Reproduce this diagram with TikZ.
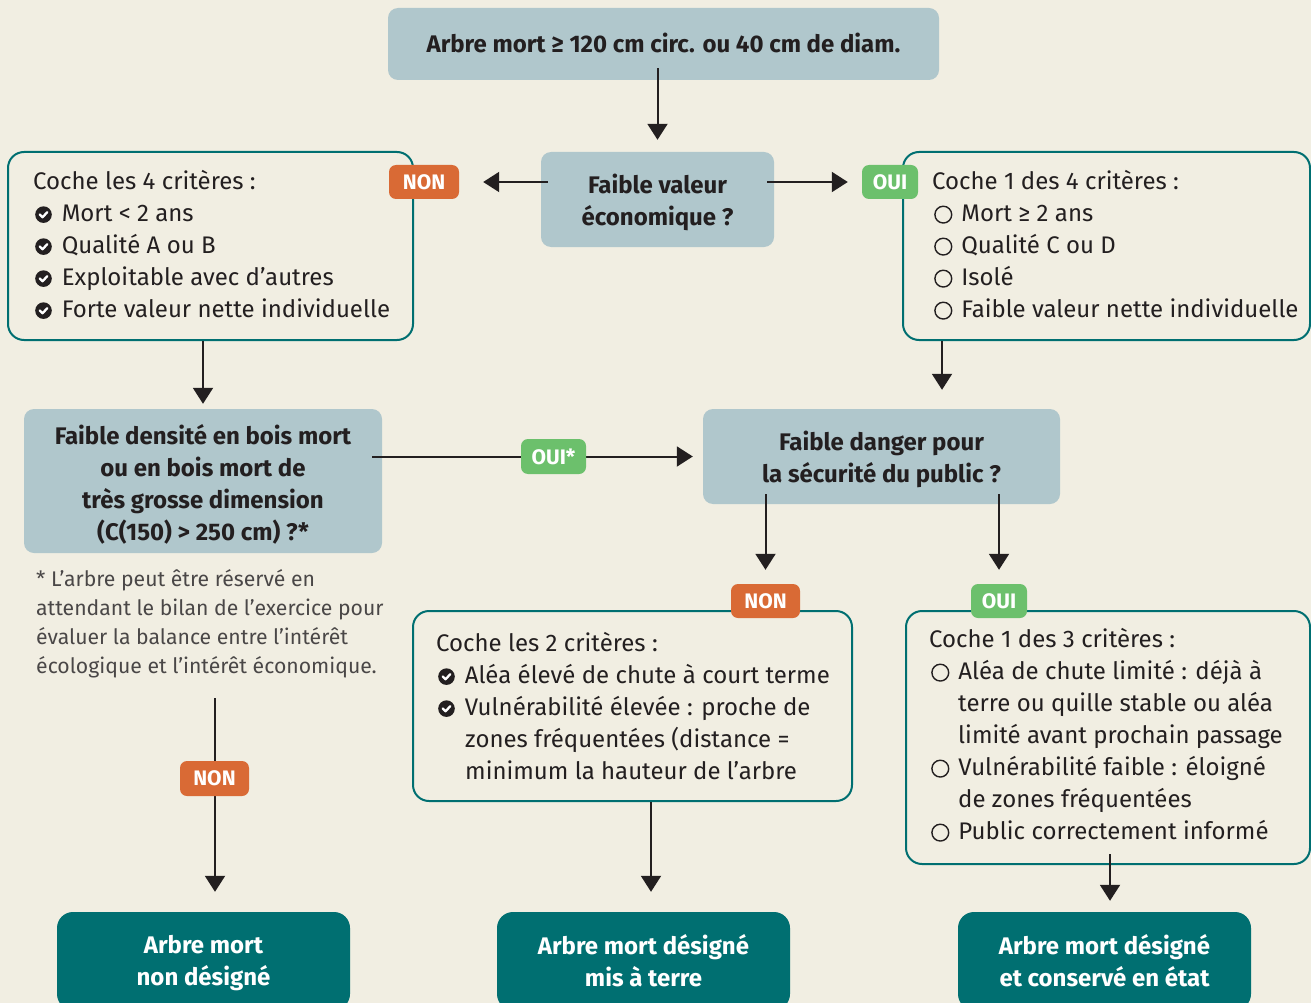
\documentclass[tikz,border=0pt]{standalone}
\usepackage{fontspec}
\setmainfont{Fira Sans}
\usetikzlibrary{arrows.meta,calc}
\definecolor{bg}{HTML}{F1EEE2}
\definecolor{qcol}{HTML}{B0C7CC}
\definecolor{tealc}{HTML}{006F71}
\definecolor{nonc}{HTML}{D96A35}
\definecolor{ouic}{HTML}{6CC06C}
\definecolor{ink}{HTML}{231F20}
\definecolor{notec}{HTML}{4A4747}
\begin{document}
\newsavebox\chkbox
\sbox\chkbox{\begin{pgfpicture}\pgfsetbaseline{0pt}%
  \pgfsetfillcolor{ink}\pgfpathcircle{\pgfpoint{0pt}{6.8pt}}{8.3pt}\pgfusepath{fill}%
  \pgfsetstrokecolor{white}\pgfsetlinewidth{2.3pt}\pgfsetroundcap\pgfsetroundjoin
  \pgfpathmoveto{\pgfpoint{-3.7pt}{6.9pt}}\pgfpathlineto{\pgfpoint{-1pt}{4.2pt}}%
  \pgfpathlineto{\pgfpoint{3.9pt}{9.3pt}}\pgfusepath{stroke}%
\end{pgfpicture}}
\newsavebox\cirbox
\sbox\cirbox{\begin{pgfpicture}\pgfsetbaseline{0pt}%
  \pgfsetstrokecolor{ink}\pgfsetlinewidth{1.4pt}%
  \pgfpathcircle{\pgfpoint{0pt}{6.8pt}}{8.4pt}\pgfusepath{stroke}%
\end{pgfpicture}}
\newcommand\ck{\hspace*{2pt}\usebox\chkbox\hspace{10pt}}
\newcommand\ci{\hspace*{2pt}\usebox\cirbox\hspace{9pt}}
\newcommand\cont{\hspace*{29pt}}
\newcommand\fst{\rule{0pt}{19pt}}
\begin{tikzpicture}[x=1pt,y=-1pt,
  qbox/.style={fill=qcol,rounded corners=10pt,inner sep=0pt},
  qtext/.style={inner sep=0pt,text=ink,align=center,
    font=\bfseries\fontsize{24}{32}\selectfont},
  critbox/.style={draw=tealc,line width=2pt,fill=bg,rounded corners=16pt,inner sep=0pt},
  endbox/.style={fill=tealc,rounded corners=16pt,inner sep=0pt,minimum width=293pt,minimum height=98pt},
  endtext/.style={qtext,text=white},
  crittext/.style={anchor=north west,inner sep=0pt,align=left,text=ink,
    font=\fontsize{24}{32}\selectfont},
  badge/.style={rounded corners=7pt,inner sep=0pt,text=white,minimum height=34pt,
    font=\bfseries\fontsize{21}{24}\selectfont},
  nonb/.style={badge,fill=nonc,minimum width=70pt},
  ouib/.style={badge,fill=ouic,minimum width=56pt},
  arr/.style={draw=ink,line width=2pt,-{Triangle[length=16pt,width=20pt]}}]
\fill[bg] (0,0) rectangle (1311,1003);
\useasboundingbox (0,0) rectangle (1311,1003);
\clip (0,0) rectangle (1311,1003);

% boxes
\node[qbox,minimum width=551pt,minimum height=72pt] (top) at (663.5,44) {};
\node[qtext] (topt) at ($(top)+(0,-1)$) {Arbre mort ≥ 120 cm circ. ou 40 cm de diam.};
\node[qbox,minimum width=233pt,minimum height=95pt] (q1) at (657.5,199.5) {};
\node[qtext] (q1t) at ($(q1)+(0,3)$) {Faible valeur\\économique ?};
\node[critbox,minimum width=405pt,minimum height=188pt] (critL) at (210.5,246) {};
\node[critbox,minimum width=407pt,minimum height=188pt] (critR) at (1106.5,246) {};
\node[qbox,minimum width=358pt,minimum height=144pt] (q2) at (203,481) {};
\node[qtext] (q2t) at ($(q2)+(0,3)$) {Faible densité en bois mort\\ou en bois mort de\\très grosse dimension\\(C(150) > 250 cm) ?*};
\node[qbox,minimum width=357pt,minimum height=95pt] (q3) at (881.5,456.5) {};
\node[qtext] (q3t) at ($(q3)+(0,3)$) {Faible danger pour\\la sécurité du public ?};
\node[critbox,minimum width=439pt,minimum height=190pt] (critM) at (632.5,706) {};
\node[critbox,minimum width=404pt,minimum height=253pt] (critRR) at (1108,737.5) {};
\node[endbox] (end1) at (203.5,961) {};
\node[endtext] (end1t) at ($(end1)+(0,2)$) {Arbre mort\\non désigné};
\node[endbox] (end2) at (643.5,961) {};
\node[endtext] (end2t) at ($(end2)+(0,0)$) {Arbre mort désigné\\mis à terre};
\node[endbox] (end3) at (1104.5,961) {};
\node[endtext] (end3t) at ($(end3)+(0,0)$) {Arbre mort désigné\\et conservé en état};

% criteria texts
\node[crittext] (tL) at (33,170) {\fst Coche les 4 critères :\\
\ck Mort < 2 ans\\
\ck Qualité A ou B\\
\ck Exploitable avec d’autres\\
\ck Forte valeur nette individuelle};
\node[crittext] (tR) at (932,170) {\fst Coche 1 des 4 critères :\\
\ci Mort ≥ 2 ans\\
\ci Qualité C ou D\\
\ci Isolé\\
\ci Faible valeur nette individuelle};
\node[crittext] (tM) at (436,632) {\fst Coche les 2 critères :\\
\ck Aléa élevé de chute à court terme\\
\ck Vulnérabilité élevée : proche de\\
\cont zones fréquentées (distance =\\
\cont minimum la hauteur de l’arbre};
\node[crittext] (tRR) at (929,628) {\fst Coche 1 des 3 critères :\\
\ci Aléa de chute limité : déjà à\\
\cont terre ou quille stable ou aléa\\
\cont limité avant prochain passage\\
\ci Vulnérabilité faible : éloigné\\
\cont de zones fréquentées\\
\ci Public correctement informé};
\node[anchor=north west,inner sep=0pt,align=left,text=notec,
  font=\fontsize{21.2}{29}\selectfont] (fn) at (36,569.5)
  {\rule{0pt}{16pt}* L’arbre peut être réservé en\\
  attendant le bilan de l’exercice pour\\
  évaluer la balance entre l’intérêt\\
  écologique et l’intérêt économique.};

% connectors
\draw[arr] ($(top.south -| q1.north)+(0,-12)$) -- ($(q1.north)+(0,-12)$);
\node[nonb] (non1) at (424,182) {NON};
\node[ouib] (oui1) at (890,182) {OUI};
\draw[arr] ($(q1.west |- non1)+(7,0)$) -- ($(non1.east)+(24,0)$);
\draw[arr] ($(q1.east |- oui1)+(-7,0)$) -- ($(oui1.west)+(-14,0)$);
\draw[arr] (critL.south -| q2.north) -- ($(q2.north)+(0,-5)$);
\draw[arr] ($(critR.south west)+(40,0)$) coordinate (cRs) -- ($(cRs |- q3.north)+(0,-19)$);
\draw[arr] ($(q2.east |- q3.west)+(-10,0)$) -- ($(q3.west)+(-10,0)$);
\node[ouib,minimum width=65pt,minimum height=35pt] (oui3) at (553.5,456.5) {OUI*};
\node[nonb,minimum width=69pt] (non2) at (765.5,601) {NON};
\node[ouib] (oui2) at (999,601) {OUI};
\draw[arr] ($(q3.south -| non2.north)+(0,-10)$) -- ($(non2.north)+(0,-14)$);
\draw[arr] ($(q3.south -| oui2.north)+(0,-10)$) -- ($(oui2.north)+(0,-14)$);
\draw[arr] ($(fn.south -| end1.north)+(11.5,20)$) -- ($(end1.north)+(11.5,-20)$);
\node[nonb,minimum width=69pt,minimum height=35pt] (non3) at (214.5,778.5) {NON};
\draw[arr] ($(critM.south)+(18.5,0)$) -- ($(end2.north)+(7.5,-20)$);
\draw[arr] ($(critRR.south)+(2,-11)$) -- ($(end3.north)+(5.5,-11)$);
\end{tikzpicture}
\end{document}
